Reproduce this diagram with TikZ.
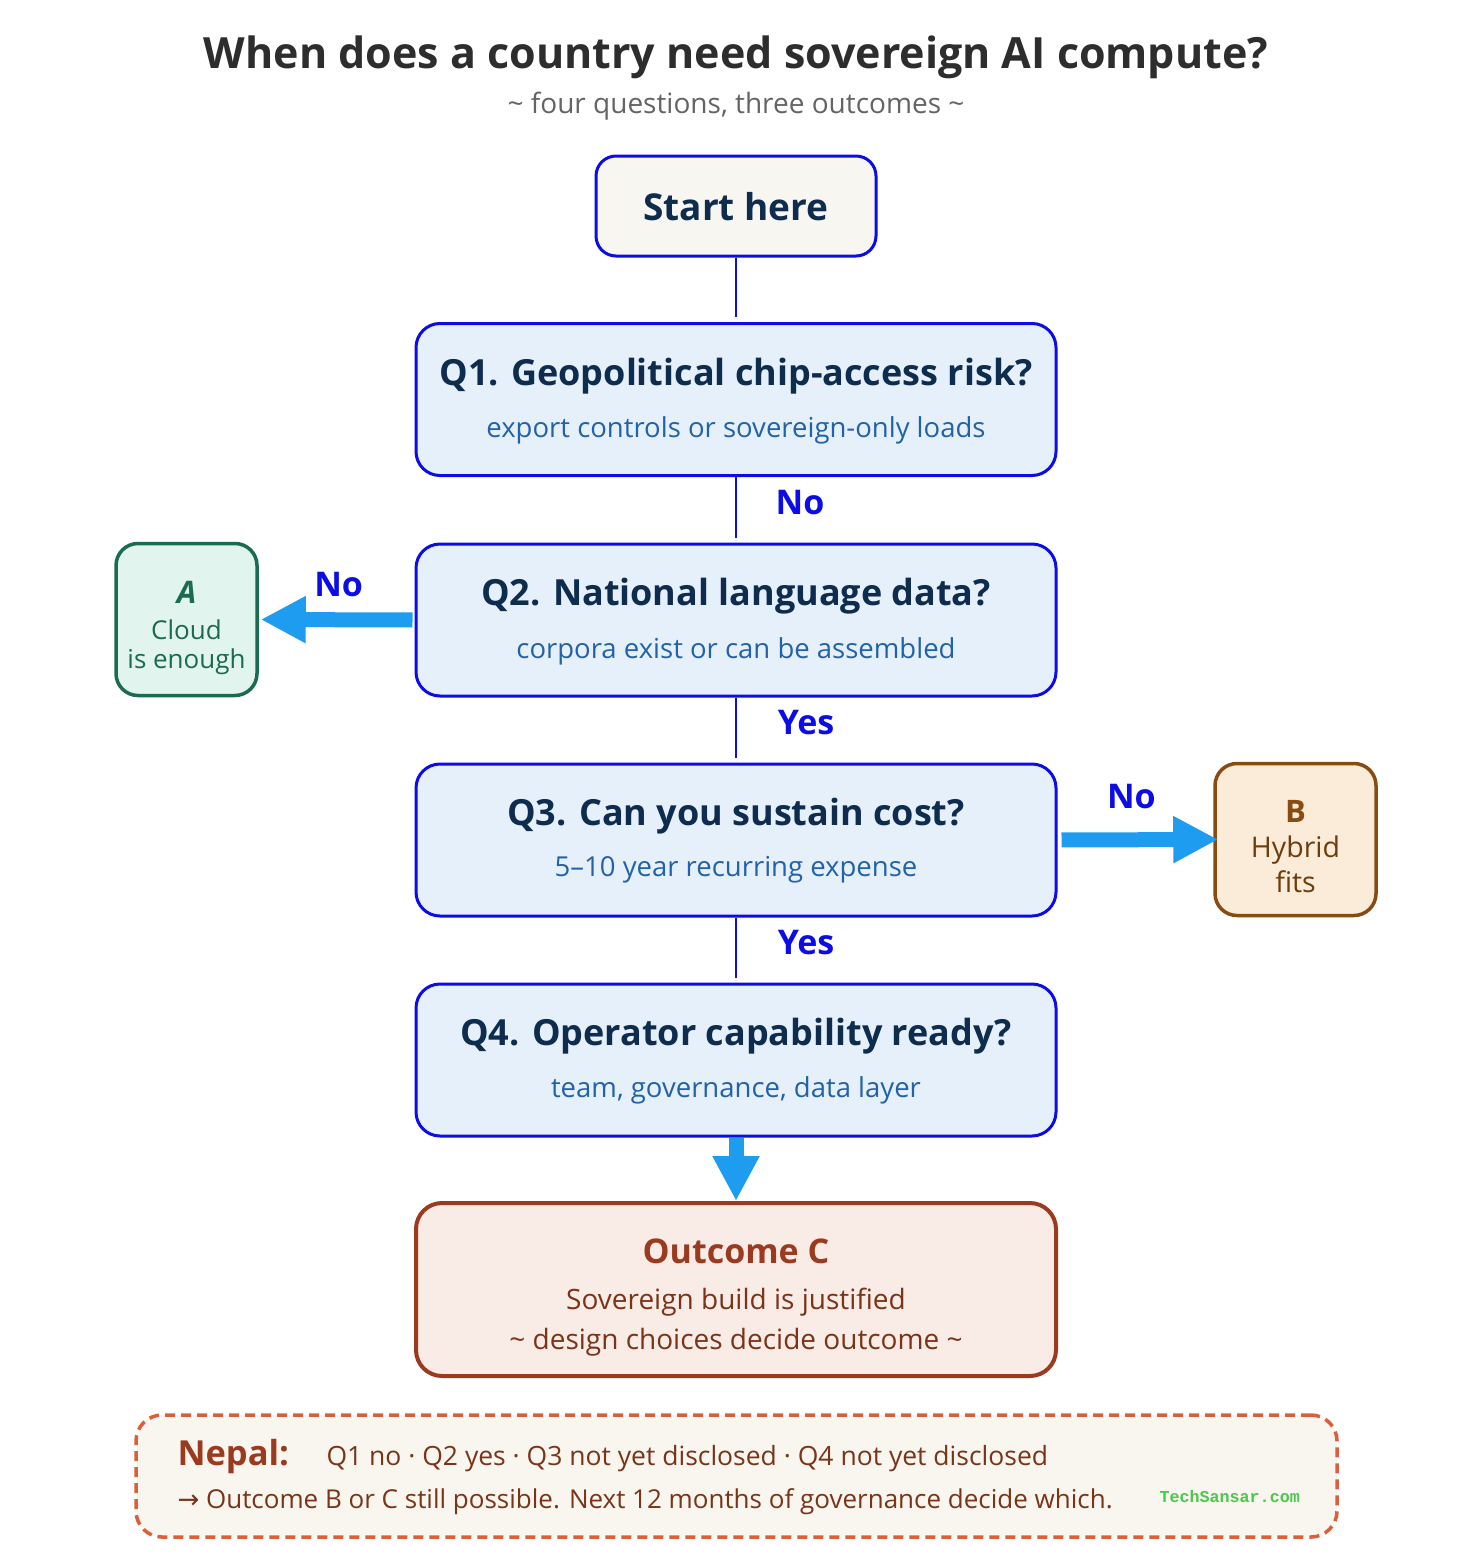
\documentclass[tikz,border=0pt]{standalone}
\usepackage{fontspec}
\setmainfont{Open Sans}
\newfontfamily\monofont{Liberation Mono}
\newfontfamily\symfont{DejaVu Sans}
\usetikzlibrary{arrows.meta}
\definecolor{qblue}{RGB}{12,12,230}
\definecolor{qfill}{RGB}{230,240,251}
\definecolor{qtitle}{RGB}{14,44,78}
\definecolor{qsub}{RGB}{34,98,168}
\definecolor{startfill}{RGB}{248,246,240}
\definecolor{arrowblue}{RGB}{30,156,240}
\definecolor{titlegray}{RGB}{45,45,45}
\definecolor{subgray}{RGB}{100,100,100}
\definecolor{agreen}{RGB}{27,107,80}
\definecolor{afill}{RGB}{226,244,238}
\definecolor{bbrown}{RGB}{136,76,18}
\definecolor{bfill}{RGB}{250,236,216}
\definecolor{cred}{RGB}{155,58,30}
\definecolor{cfill}{RGB}{249,235,230}
\definecolor{ctext}{RGB}{122,52,24}
\definecolor{ndash}{RGB}{217,96,58}
\definecolor{nfill}{RGB}{249,246,239}
\definecolor{webgreen}{RGB}{76,200,76}
\begin{document}
\begin{tikzpicture}[x=1pt,y=-1pt,
  qbox/.style={draw=qblue, line width=3pt, fill=qfill, rounded corners=24pt,
    minimum width=640pt, minimum height=152pt, inner sep=0pt},
  qtitle/.style={text=qtitle, font=\fontsize{36}{40}\selectfont\bfseries},
  qsub/.style={text=qsub, font=\fontsize{27.5}{31}\selectfont},
  conn/.style={draw=qblue, line width=2pt},
  lab/.style={text=qblue, font=\fontsize{34}{38}\selectfont\bfseries},
  bigarrow/.style={draw=arrowblue, line width=15pt,
    -{Triangle[length=45pt,width=44pt]}},
  outbox/.style={line width=3.5pt, rounded corners=22pt, minimum width=141pt,
    minimum height=152pt, inner sep=0pt}
]
\useasboundingbox (0,0) rectangle (1472,1560);
\fill[white] (0,0) rectangle (1472,1560);

% title
\node[text=titlegray, font=\fontsize{43}{48}\selectfont\bfseries] (title) at (736,57) {When does a country need sovereign AI compute?};
\node[text=subgray, font=\fontsize{28}{32}\selectfont] (subtitle) at (736,106) {\textasciitilde\ four questions, three outcomes \textasciitilde};

% start
\node[draw=qblue, line width=3pt, fill=startfill, rounded corners=20pt,
  minimum width=280pt, minimum height=100pt, inner sep=0pt] (start) at (736,206) {};
\node[qtitle, font=\fontsize{37}{42}\selectfont\bfseries] (startt) at (736,207) {Start here};

% questions
\node[qbox] (q1) at (736,399.5) {};
\node[qtitle] (q1t) at (736,376) {Q1. Geopolitical chip-access risk?};
\node[qsub] (q1s) at (736,430) {export controls or sovereign-only loads};

\node[qbox] (q2) at (736,620) {};
\node[qtitle] (q2t) at (736,596) {Q2. National language data?};
\node[qsub] (q2s) at (736,651) {corpora exist or can be assembled};

\node[qbox] (q3) at (736,840) {};
\node[qtitle] (q3t) at (736,816) {Q3. Can you sustain cost?};
\node[qsub] (q3s) at (736,870) {5--10 year recurring expense};

\node[qbox] (q4) at (736,1060) {};
\node[qtitle] (q4t) at (736,1036) {Q4. Operator capability ready?};
\node[qsub] (q4s) at (736,1090) {team, governance, data layer};

% outcome C
\node[draw=cred, line width=4pt, fill=cfill, rounded corners=26pt,
  minimum width=640pt, minimum height=173pt, inner sep=0pt] (oc) at (736,1289.5) {};
\node[text=cred, font=\fontsize{34}{38}\selectfont\bfseries] (oct) at (736,1251) {Outcome C};
\node[text=ctext, font=\fontsize{28}{32}\selectfont] (oc1) at (736,1302) {Sovereign build is justified};
\node[text=ctext, font=\fontsize{28}{32}\selectfont] (oc2) at (736,1342) {\textasciitilde\ design choices decide outcome \textasciitilde};

% outcome A
\node[outbox, draw=agreen, fill=afill] (oa) at (186.5,619.5) {};
\node[text=agreen, font=\fontsize{31}{34}\selectfont\bfseries\itshape] (oat) at (186.5,592) {A};
\node[text=agreen, font=\fontsize{26}{29}\selectfont] (oa1) at (186.5,630) {Cloud};
\node[text=agreen, font=\fontsize{26}{29}\selectfont] (oa2) at (186.5,662) {is enough};

% outcome B
\node[outbox, draw=bbrown, fill=bfill, minimum width=161pt] (ob) at (1295.5,839.5) {};
\node[text=bbrown, font=\fontsize{31}{34}\selectfont\bfseries] (obt) at (1295.5,811) {B};
\node[text=bbrown!80!black, font=\fontsize{28.5}{32}\selectfont] (ob1) at (1295.5,850) {Hybrid};
\node[text=bbrown!80!black, font=\fontsize{28.5}{32}\selectfont] (ob2) at (1295.5,882) {fits};

% connectors
\draw[conn, shorten >=5pt] (start.south) -- (q1.north);
\draw[conn, shorten >=5pt] (q1.south) -- node[lab, xshift=64pt, yshift=7pt] {No} (q2.north);
\draw[conn, shorten >=5pt] (q2.south) -- node[lab, xshift=70pt, yshift=7pt] {Yes} (q3.north);
\draw[conn, shorten >=5pt] (q3.south) -- node[lab, xshift=70pt, yshift=7pt] {Yes} (q4.north);
\draw[bigarrow, shorten <=2pt, shorten >=2pt] (q2.west) -- node[lab, yshift=35pt, xshift=2pt] {No} (oa.east);
\draw[bigarrow, shorten <=4pt, shorten >=-5pt] (q3.east) -- node[lab, yshift=43pt, xshift=-4pt] {No} (ob.west);
\draw[bigarrow, shorten <=0pt, shorten >=0pt] (q4.south) -- (oc.north);

% Nepal box
\node[draw=ndash, line width=3.5pt, dash pattern=on 10pt off 6pt, fill=nfill,
  rounded corners=26pt, minimum width=1201pt, minimum height=122pt, inner sep=0pt] (nb) at (736.5,1476) {};
\node[text=cred, font=\fontsize{34.5}{38}\selectfont\bfseries, anchor=west] (nt) at (174,1457) {Nepal:};
\node[text=ctext, font=\fontsize{26.5}{30}\selectfont, anchor=west] (nl1) at (323,1459) {Q1 no · Q2 yes · Q3 not yet disclosed · Q4 not yet disclosed};
\node[text=ctext, font=\fontsize{26}{30}\selectfont, anchor=west] (nl2) at (174,1502) {{\symfont →} Outcome B or C still possible. Next 12 months of governance decide which.};
\node[text=webgreen, font=\monofont\fontsize{16.7}{18}\selectfont\bfseries, anchor=west] (web) at (1156,1497) {TechSansar.com};
\end{tikzpicture}
\end{document}
